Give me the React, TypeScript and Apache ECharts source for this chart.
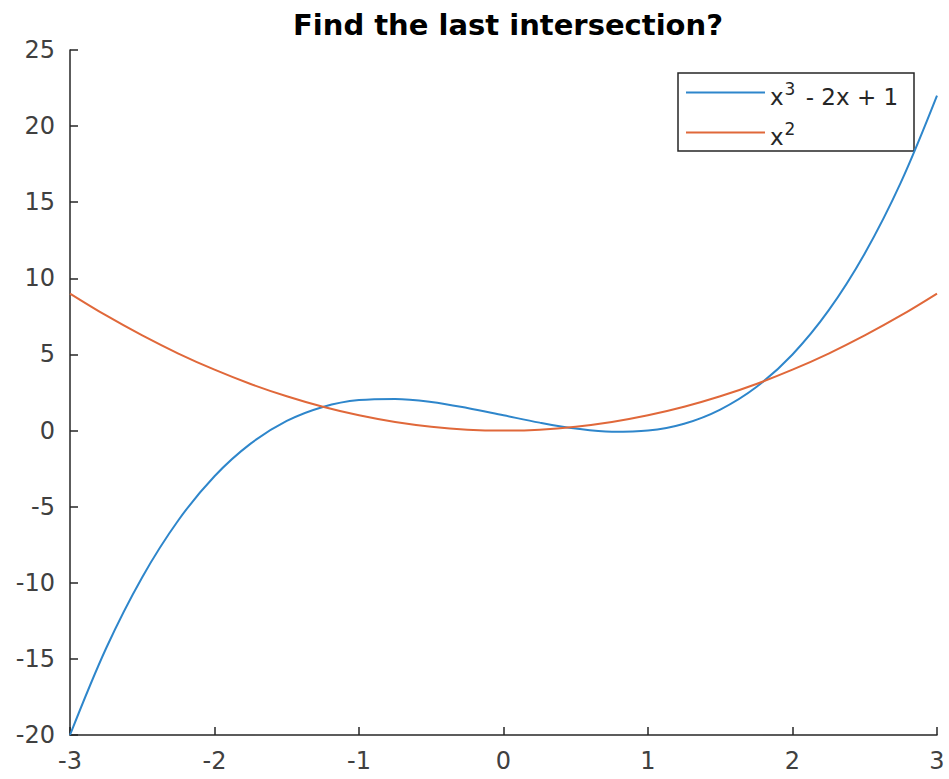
import React, { useEffect, useRef } from "react";
import * as echarts from "echarts";

const xValues = [-3, -2.75, -2.5, -2.25, -2, -1.75, -1.5, -1.25, -1, -0.75, -0.5, -0.25, 0, 0.25, 0.5, 0.75, 1, 1.25, 1.5, 1.75, 2, 2.25, 2.5, 2.75, 3];
const cubicValues = [-20, -14.3, -9.63, -5.89, -3, -0.86, 0.63, 1.55, 2, 2.08, 1.88, 1.48, 1, 0.52, 0.13, -0.08, 0, 0.45, 1.38, 2.86, 5, 7.89, 11.63, 16.3, 22];
const squareValues = [9, 7.56, 6.25, 5.06, 4, 3.06, 2.25, 1.56, 1, 0.56, 0.25, 0.06, 0, 0.06, 0.25, 0.56, 1, 1.56, 2.25, 3.06, 4, 5.06, 6.25, 7.56, 9];
const seriesNames = ["x^3 - 2x + 1", "x^2"];
const titleText = "Find the last intersection?";

const FONT = "DejaVu Sans";

export default function App() {
  const ref = useRef<HTMLDivElement>(null);
  useEffect(() => {
    if (!ref.current) return;
    const chart = echarts.init(ref.current, undefined, { renderer: "svg" });
    const axisColor = "#262626";
    const labelColor = "#404040";
    chart.setOption({
      animation: false,
      backgroundColor: "#ffffff",
      title: {
        text: titleText,
        left: 503,
        textAlign: "center",
        top: 5,
        textStyle: { fontFamily: FONT, fontWeight: "bold", fontSize: 29, color: "#000" },
      },
      grid: { left: 70, right: 12, top: 50, bottom: 44, containLabel: false },
      xAxis: {
        type: "value",
        min: -3,
        max: 3,
        interval: 1,
        axisLine: { show: true, onZero: false, lineStyle: { color: axisColor, width: 1.5 } },
        axisTick: { show: true, inside: true, length: 8, lineStyle: { color: axisColor, width: 1.5 } },
        axisLabel: { fontFamily: FONT, fontSize: 24, color: labelColor, margin: 14 },
        splitLine: { show: false },
      },
      yAxis: {
        type: "value",
        min: -20,
        max: 25,
        interval: 5,
        axisLine: { show: true, onZero: false, lineStyle: { color: axisColor, width: 1.5 } },
        axisTick: { show: true, inside: true, length: 8, lineStyle: { color: axisColor, width: 1.5 } },
        axisLabel: { fontFamily: FONT, fontSize: 24, color: labelColor, margin: 15 },
        splitLine: { show: false },
      },
      legend: {
        orient: "vertical",
        left: 686,
        top: 77,
        itemWidth: 79,
        itemHeight: 14,
        itemGap: 9,
        padding: 0,
        icon: "path://M0,0 L80,0 L80,2 L0,2 Z",
        formatter: (name: string) =>
          name === seriesNames[0]
            ? "{b|x}{s|3}{b| - 2x + 1}"
            : "{b|x}{s|2}",
        textStyle: {
          fontFamily: FONT,
          color: "#262626",
          rich: {
            b: { fontFamily: FONT, fontSize: 23, color: "#262626", lineHeight: 28, padding: [8, 0, 0, 0] },
            s: { fontFamily: FONT, fontSize: 17, color: "#262626", lineHeight: 28, padding: [0, 3, 8, 1] },
          },
        },
      },
      graphic: [
        {
          type: "rect",
          shape: { x: 678, y: 73, width: 236, height: 78 },
          style: { fill: "#ffffff", stroke: "#262626", lineWidth: 1.5 },
          z: 1,
          zlevel: 0,
        },
      ],
      series: [
        {
          name: seriesNames[0],
          type: "line",
          data: xValues.map((x, i) => [x, cubicValues[i]]),
          smooth: 0.35,
          symbol: "none",
          lineStyle: { color: "#2E86CB", width: 2 },
          itemStyle: { color: "#2E86CB" },
          z: 2,
        },
        {
          name: seriesNames[1],
          type: "line",
          data: xValues.map((x, i) => [x, squareValues[i]]),
          smooth: 0.35,
          symbol: "none",
          lineStyle: { color: "#E0683A", width: 2 },
          itemStyle: { color: "#E0683A" },
          z: 2,
        },
      ],
    });
    return () => chart.dispose();
  }, []);
  return (
    <div
      ref={ref}
      style={{ position: "fixed", left: 0, top: 0, width: 949, height: 779, background: "#fff" }}
    />
  );
}
